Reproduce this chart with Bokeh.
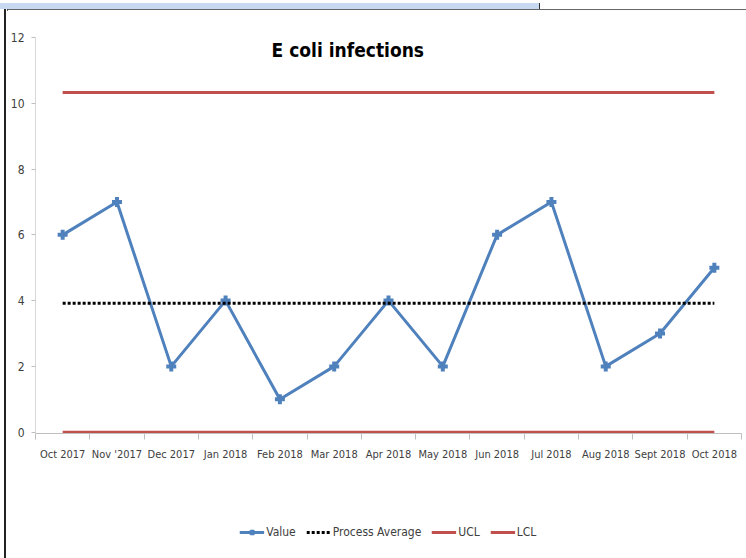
from bokeh.plotting import figure
from bokeh.layouts import column, row
from bokeh.models import (Range1d, FixedTicker, Legend, LegendItem, Label,
                          ColumnDataSource, Div)
from bokeh.embed import file_html
from bokeh.resources import INLINE

# Monthly E coli infection counts
months = ["Oct 2017", "Nov '2017", "Dec 2017", "Jan 2018", "Feb 2018", "Mar 2018",
          "Apr 2018", "May 2018", "Jun 2018", "Jul 2018", "Aug 2018", "Sept 2018",
          "Oct 2018"]
values = [6, 7, 2, 4, 1, 2, 4, 2, 6, 7, 2, 3, 5]
process_average = [3.92] * len(months)
ucl = [10.33] * len(months)
lcl = [0] * len(months)
y_ticks = [0, 2, 4, 6, 8, 10, 12]
series_names = ["Value", "Process Average", "UCL", "LCL"]

FONT = "'DejaVu Sans Condensed', Roboto, sans-serif"
BLUE = "#4F81BD"
RED = "#C0504D"
AVG_DASH = "3 2"

# months sit at the middle of each category slot
xs = [i + 0.5 for i in range(len(months))]
src = ColumnDataSource(dict(x=xs, value=values, avg=process_average, ucl=ucl, lcl=lcl))

p = figure(width=739, height=497, output_backend="svg", toolbar_location=None,
           x_range=Range1d(0, len(months)), y_range=Range1d(-0.04, 12),
           min_border_left=27, min_border_right=5, min_border_top=28,
           min_border_bottom=73, margin=0)
p.outline_line_color = None
p.grid.grid_line_color = None
p.background_fill_color = "white"
p.border_fill_color = "white"

# x axis: labels at slot centres, tick marks at slot boundaries
xax = p.xaxis[0]
xax.ticker = FixedTicker(ticks=xs, minor_ticks=list(range(len(months) + 1)))
xax.major_label_overrides = {x: m for x, m in zip(xs, months)}
xax.major_tick_line_color = None
xax.major_tick_out = 6
xax.major_tick_in = 0
xax.minor_tick_out = 6
xax.minor_tick_in = 0
xax.minor_tick_line_color = "#BFBFBF"
xax.axis_line_color = "#BFBFBF"
xax.major_label_standoff = 8
xax.major_label_text_font_size = "11px"

yax = p.yaxis[0]
yax.ticker = FixedTicker(ticks=y_ticks, minor_ticks=[])
yax.major_tick_out = 4
yax.major_tick_in = 0
yax.major_tick_line_color = "#BFBFBF"
yax.axis_line_color = "#D9D9D9"
yax.major_label_standoff = 7
yax.major_label_text_font_size = "12px"

for ax in (xax, yax):
    ax.major_label_text_font = FONT
    ax.major_label_text_color = "#404040"

p.line("x", "value", source=src, line_color=BLUE, line_width=3)
p.scatter("x", "value", source=src, marker="cross", size=10,
          line_color=BLUE, line_width=4)
p.line("x", "avg", source=src, line_color="black", line_width=3, line_dash=AVG_DASH)
p.line("x", "ucl", source=src, line_color=RED, line_width=3)
p.line("x", "lcl", source=src, line_color=RED, line_width=3)

p.add_layout(Label(x=5.75, y=11.3, text="E coli infections", text_align="center",
                   text_font=FONT, text_font_style="bold", text_font_size="19px",
                   text_color="black"))

# legend strip underneath the chart; its key glyphs sit outside the visible range
lg = figure(width=739, height=52, output_backend="svg", toolbar_location=None,
            x_range=Range1d(0, 1), y_range=Range1d(0, 1),
            x_axis_location=None, y_axis_location=None,
            min_border=0, min_border_left=0, min_border_right=0,
            min_border_top=0, min_border_bottom=0, margin=0)
lg.outline_line_color = None
lg.grid.grid_line_color = None
off = dict(x=[-5, -4], y=[-5, -5])
k_val = [lg.line(line_color=BLUE, line_width=3, **off),
         lg.scatter(marker="cross", size=12, line_color=BLUE, line_width=4, **off)]
k_avg = [lg.line(line_color="black", line_width=3, line_dash=AVG_DASH, **off)]
k_ucl = [lg.line(line_color=RED, line_width=3, **off)]
k_lcl = [lg.line(line_color=RED, line_width=3, **off)]
legend = Legend(items=[LegendItem(label=n, renderers=r) for n, r in
                       zip(series_names, [k_val, k_avg, k_ucl, k_lcl])],
                orientation="horizontal", location="center",
                label_text_font=FONT, label_text_font_size="12px",
                label_text_color="#404040", glyph_width=25, glyph_height=14,
                spacing=10, label_standoff=2, padding=0, margin=0,
                border_line_color=None, background_fill_alpha=0)
lg.add_layout(legend, "center")

# sheet frame: light blue cell strip with a rule underneath, dark left edge
top_strip = Div(width=746, height=9, margin=0, text=(
    "<div style='position:relative;width:746px;height:9px;background:white'>"
    "<div style='position:absolute;left:0;top:0;width:540px;height:6px;"
    "background:#C6D9F1;border-right:1px solid #333'></div>"
    "<div style='position:absolute;left:0;top:6px;width:746px;height:2px;"
    "background:#333'></div></div>"))
left_edge = Div(width=7, height=549, margin=0, text=(
    "<div style='position:relative;width:7px;height:549px;background:white'>"
    "<div style='position:absolute;left:4px;top:0;width:2px;height:549px;"
    "background:#222'></div></div>"))

layout = column(top_strip,
                row(left_edge, column(p, lg, spacing=0, margin=0), spacing=0, margin=0),
                spacing=0, margin=0)

open("out.html", "w").write(file_html(layout, INLINE))
